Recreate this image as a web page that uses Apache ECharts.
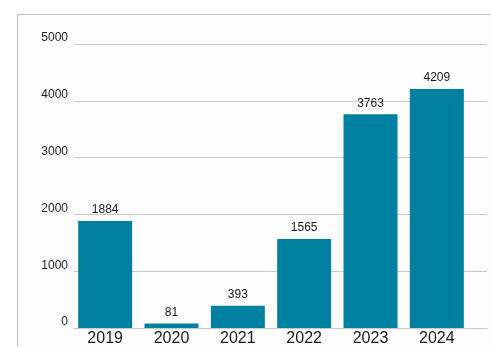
<!DOCTYPE html>
<html><head><meta charset="utf-8">
<script src="https://cdn.jsdelivr.net/npm/echarts@6/dist/echarts.min.js"></script>
<style>html,body{margin:0;padding:0;background:#fff}#c{width:491px;height:347px}</style>
</head><body><div id="c"></div>
<script>
const categories = ['2019','2020','2021','2022','2023','2024'];
const values = [1884, 81, 393, 1565, 3763, 4209];
const yTicks = [0, 1000, 2000, 3000, 4000, 5000];

const chart = echarts.init(document.getElementById('c'), null, {renderer:'canvas'});
const font = 'Liberation Sans, Arial, sans-serif';
chart.setOption({
  animation:false,
  backgroundColor:'#ffffff',
  graphic:[{type:'rect', z:-10, shape:{x:17.5,y:14.5,width:500,height:400},
    style:{fill:'#fdfdfd', stroke:'#bdbdbd', lineWidth:1}}],
  grid:[
    {left:72, right:21, top:44, bottom:19},
    {left:74, right:4, top:44, bottom:19}
  ],
  xAxis:[
    {type:'category', gridIndex:0, data:categories,
     axisLine:{show:false}, axisTick:{show:false},
     axisLabel:{fontFamily:font, fontSize:16, color:'#1a1a1a', margin:3}},
    {type:'category', gridIndex:1, data:categories, show:true,
     axisLine:{show:true, lineStyle:{color:'#c8c8c8', width:1}}, axisTick:{show:false}, axisLabel:{show:false}}
  ],
  yAxis:[
    {type:'value', gridIndex:0, min:yTicks[0], max:yTicks[yTicks.length-1], interval:1000, show:false, splitLine:{show:false}},
    {type:'value', gridIndex:1, min:yTicks[0], max:yTicks[yTicks.length-1], interval:1000,
     axisLine:{show:false}, axisTick:{show:false},
     axisLabel:{fontFamily:font, fontSize:12, color:'#222', margin:6, verticalAlign:'bottom', lineHeight:12,
       formatter:function(v){return String(v);}},
     splitLine:{show:true, lineStyle:{color:'#c8c8c8', width:1}}}
  ],
  series:[{
    type:'bar', xAxisIndex:0, yAxisIndex:0, data:values, barWidth:54,
    itemStyle:{color:'#0080a0'},
    label:{show:true, position:'top', distance:5, fontFamily:font, fontSize:12, color:'#1a1a1a'}
  }]
});
</script></body></html>
